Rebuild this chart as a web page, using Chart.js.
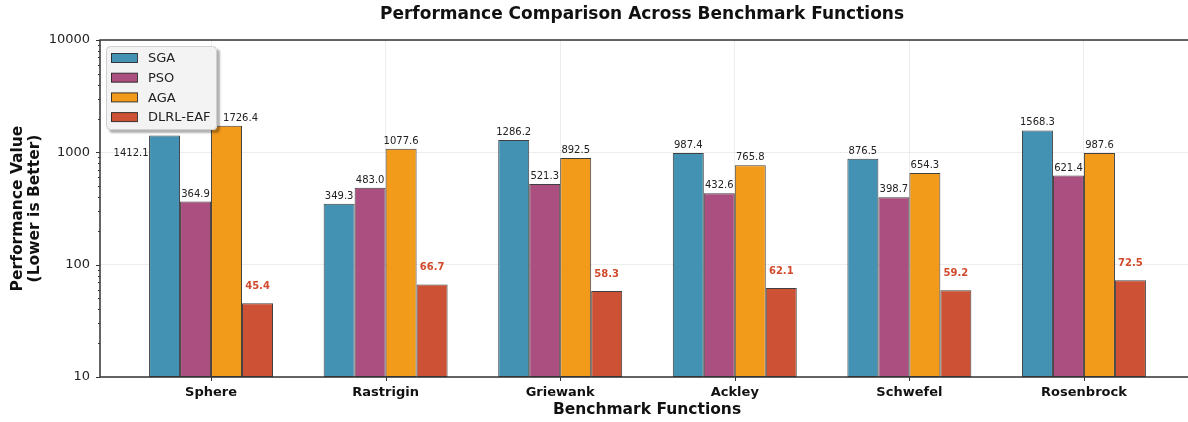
<!DOCTYPE html>
<html>
<head>
<meta charset="utf-8">
<script src="https://cdn.jsdelivr.net/npm/chart.js@4.4.0/dist/chart.umd.min.js"></script>
<style>
  html, body { margin: 0; padding: 0; background: #fff; }
  #wrap { width: 1188px; height: 422px; }
</style>
</head>
<body>
<div id="wrap"><canvas id="myChart" width="1188" height="422"></canvas></div>
<script>
'use strict';

const functions = ['Sphere', 'Rastrigin', 'Griewank', 'Ackley', 'Schwefel', 'Rosenbrock'];
const sgaValues = [1412.1, 349.3, 1286.2, 987.4, 876.5, 1568.3];
const psoValues = [364.9, 483.0, 521.3, 432.6, 398.7, 621.4];
const agaValues = [1726.4, 1077.6, 892.5, 765.8, 654.3, 987.6];
const dlrlValues = [45.4, 66.7, 58.3, 62.1, 59.2, 72.5];
const yTicks = [10, 100, 1000, 10000];

const FONT = "'DejaVu Sans', sans-serif";
const colors = ['#4392b3', '#ab4f80', '#f29a1a', '#cd5134'];
const names = ['SGA', 'PSO', 'AGA', 'DLRL-EAF'];

function toPoints(vals) {
  return vals.map((v, i) => ({ x: i, y: v }));
}

const seriesList = [sgaValues, psoValues, agaValues, dlrlValues];
const datasets = seriesList.map((vals, k) => ({
  label: names[k],
  data: toPoints(vals),
  backgroundColor: colors[k],
  borderColor: 'rgba(30,30,30,0.85)',
  borderWidth: 1,
  borderSkipped: false,
  categoryPercentage: 0.71,
  barPercentage: 1.0
}));

// value labels, frame, ticks, titles and legend
const decorations = {
  id: 'decorations',
  afterDatasetsDraw(chart) {
    const ctx = chart.ctx;
    ctx.save();
    ctx.textAlign = 'center';
    ctx.textBaseline = 'alphabetic';
    chart.data.datasets.forEach((ds, k) => {
      const meta = chart.getDatasetMeta(k);
      meta.data.forEach((bar, i) => {
        const v = ds.data[i].y;
        if (k === 3) {
          ctx.font = 'bold 10px ' + FONT;
          ctx.fillStyle = '#d24a2c';
          ctx.fillText(v.toFixed(1), bar.x, bar.y - 14);
        } else {
          ctx.font = '10px ' + FONT;
          ctx.fillStyle = '#222';
          let dx = 0;
          if (k === 2 && i === 0) dx = 14;
          ctx.fillText(v.toFixed(1), bar.x + dx, bar.y - 5);
        }
      });
    });
    // Sphere SGA label repeated beside its bar
    const sphere = chart.getDatasetMeta(0).data[0];
    ctx.font = '10px ' + FONT;
    ctx.fillStyle = '#222';
    ctx.textAlign = 'right';
    ctx.fillText(sgaValues[0].toFixed(1), sphere.x - 16, sphere.y + 21);
    ctx.restore();
  },
  afterDraw(chart) {
    const ctx = chart.ctx;
    const a = chart.chartArea;
    const xs = chart.scales.x;
    const ys = chart.scales.y;
    ctx.save();

    // frame
    ctx.strokeStyle = '#333';
    ctx.lineWidth = 1.5;
    ctx.beginPath();
    ctx.moveTo(a.right + 5, a.top);
    ctx.lineTo(a.left, a.top);
    ctx.lineTo(a.left, a.bottom);
    ctx.lineTo(a.right + 5, a.bottom);
    ctx.stroke();

    // y tick marks, major and minor
    ctx.lineWidth = 1;
    ctx.beginPath();
    for (let e = 1; e < 4; e++) {
      for (let m = 1; m < 10; m++) {
        const y = Math.round(ys.getPixelForValue(m * Math.pow(10, e))) + 0.5;
        const len = m === 1 ? 4 : 2;
        ctx.moveTo(a.left, y);
        ctx.lineTo(a.left - len, y);
      }
    }
    const yTop = Math.round(ys.getPixelForValue(10000)) + 0.5;
    ctx.moveTo(a.left, yTop);
    ctx.lineTo(a.left - 4, yTop);
    // x tick marks
    functions.forEach((f, i) => {
      const x = Math.round(xs.getPixelForValue(i)) + 0.5;
      ctx.moveTo(x, a.bottom);
      ctx.lineTo(x, a.bottom + 4);
    });
    ctx.stroke();

    // titles
    ctx.fillStyle = '#111';
    ctx.textAlign = 'center';
    ctx.textBaseline = 'middle';
    ctx.font = 'bold 17px ' + FONT;
    ctx.fillText('Performance Comparison Across Benchmark Functions', 642, 15);
    ctx.font = 'bold 15.5px ' + FONT;
    ctx.fillText('Benchmark Functions', 647, 410);
    ctx.save();
    ctx.translate(26, (a.top + a.bottom) / 2);
    ctx.rotate(-Math.PI / 2);
    ctx.fillText('Performance Value', 0, -8);
    ctx.fillText('(Lower is Better)', 0, 9);
    ctx.restore();

    // legend
    const lx = 106, ly = 46, lw = 111, lh = 84;
    ctx.save();
    ctx.shadowColor = 'rgba(0,0,0,0.3)';
    ctx.shadowOffsetX = 3;
    ctx.shadowOffsetY = 3;
    ctx.shadowBlur = 2;
    ctx.fillStyle = '#f3f3f3';
    ctx.beginPath();
    ctx.roundRect(lx, ly, lw, lh, 4);
    ctx.fill();
    ctx.restore();
    ctx.strokeStyle = '#d0d0d0';
    ctx.lineWidth = 1;
    ctx.beginPath();
    ctx.roundRect(lx + 0.5, ly + 0.5, lw - 1, lh - 1, 4);
    ctx.stroke();
    ctx.font = '13px ' + FONT;
    ctx.textAlign = 'left';
    ctx.textBaseline = 'middle';
    names.forEach((n, k) => {
      const cy = 58 + k * 19.7;
      ctx.fillStyle = colors[k];
      ctx.fillRect(111, cy - 4.5, 26, 9);
      ctx.strokeStyle = 'rgba(30,30,30,0.85)';
      ctx.strokeRect(111.5, cy - 4.5, 26, 9);
      ctx.fillStyle = '#222';
      ctx.fillText(n, 148, cy + 1);
    });
    ctx.restore();
  }
};

const ctx = document.getElementById('myChart').getContext('2d');
const myChart = new Chart(ctx, {
  type: 'bar',
  data: { datasets: datasets },
  options: {
    responsive: false,
    animation: false,
    layout: { padding: { top: 40, left: 0, right: 0, bottom: 0 } },
    plugins: {
      legend: { display: false },
      title: { display: false },
      tooltip: { enabled: false }
    },
    scales: {
      x: {
        type: 'linear',
        offset: false,
        min: -0.636,
        max: 5.596,
        afterBuildTicks: s => { s.ticks = functions.map((f, i) => ({ value: i })); },
        afterFit: s => { s.height = 45; },
        ticks: {
          callback: v => functions[v],
          font: { family: FONT, size: 13, weight: 'bold' },
          color: '#111',
          padding: 8,
          maxRotation: 0,
          autoSkip: false
        },
        grid: { color: 'rgba(0,0,0,0.07)', drawTicks: false, offset: false },
        border: { display: false }
      },
      y: {
        type: 'logarithmic',
        min: 10,
        max: 10000,
        afterBuildTicks: s => { s.ticks = yTicks.map(v => ({ value: v })); },
        afterFit: s => { s.width = 100; },
        ticks: {
          callback: v => String(v),
          font: { family: FONT, size: 13 },
          color: '#222',
          padding: 10
        },
        grid: { color: 'rgba(0,0,0,0.07)', drawTicks: false },
        border: { display: false }
      }
    }
  },
  plugins: [decorations]
});
</script>
</body>
</html>
